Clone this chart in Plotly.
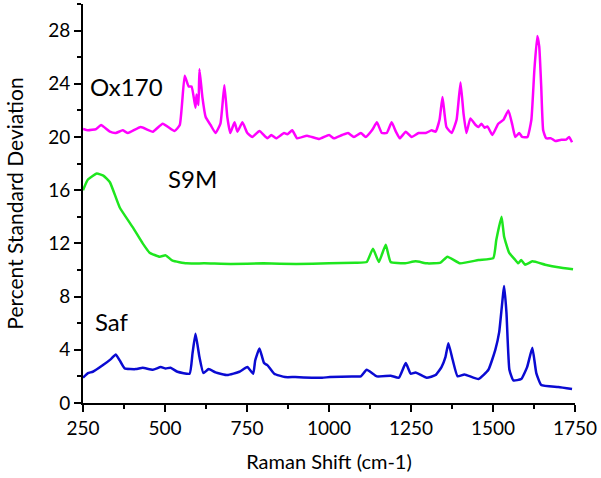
import plotly.graph_objects as go

# Ox170 (magenta)
ox_x = [250, 265, 290, 305, 332, 350, 371, 387, 426, 463, 493, 529, 545, 560, 572, 581, 593, 596, 602, 605, 614, 624, 639, 654, 669, 681, 690, 699, 712, 721, 736, 751, 766,
        788, 812, 824, 839, 863, 873, 888, 903, 933, 970, 1000, 1015, 1040, 1058, 1076, 1097, 1112, 1131, 1146, 1161, 1176, 1191, 1204, 1216, 1234, 1252, 1273,
        1295, 1313, 1325, 1337, 1346, 1358, 1374, 1389, 1401, 1410, 1419, 1431, 1447, 1456, 1465, 1474, 1483, 1498, 1516, 1532, 1547, 1559, 1568, 1580, 1589, 1605,
        1617, 1626, 1635, 1641, 1647, 1653, 1662, 1677, 1690, 1708, 1723, 1732, 1741]
ox_y = [20.6, 20.5, 20.6, 20.9, 20.4, 20.3, 20.5, 20.3, 20.75, 20.4, 21.0, 20.45, 20.9, 24.6, 23.8, 23.8, 22.2, 23.2, 22.4, 25.1, 23.0, 21.5, 20.9, 20.3, 21.0, 23.9, 21.5, 20.3, 21.1, 20.4, 21.1, 20.3, 20.0,
        20.45, 19.9, 20.15, 19.9, 20.3, 20.2, 20.5, 19.9, 20.1, 19.85, 20.15, 19.9, 20.15, 20.3, 20.0, 20.3, 20.0, 20.5, 21.1, 20.3, 20.3, 21.1, 20.4, 19.9, 20.4, 20.0, 20.3,
        20.3, 20.5, 20.4, 21.3, 23.0, 20.75, 20.3, 21.3, 24.1, 21.8, 20.3, 21.4, 20.9, 20.75, 21.0, 20.7, 20.8, 20.15, 21.0, 21.3, 22.0, 20.9, 20.0, 20.3, 20.0, 20.0,
        21.3, 25.0, 27.6, 26.8, 23.8, 20.5, 19.9, 19.9, 19.7, 19.8, 19.8, 20.0, 19.6]

# S9M (green)
s9_x = [250, 265, 292, 312, 332, 362, 402, 432, 453, 484, 502, 523, 566, 620, 700, 800, 900, 1000, 1080, 1115, 1134, 1152, 1173, 1188, 1230, 1264, 1300, 1340, 1361, 1400, 1456, 1501, 1510, 1526, 1534, 1549, 1568, 1577, 1586, 1598, 1620, 1659, 1699, 1744]
s9_y = [16.0, 16.8, 17.25, 17.1, 16.6, 14.7, 13.2, 12.0, 11.3, 11.0, 11.1, 10.7, 10.5, 10.5, 10.45, 10.5, 10.45, 10.5, 10.55, 10.6, 11.6, 10.6, 11.9, 10.6, 10.5, 10.65, 10.5, 10.55, 11.0, 10.5, 10.75, 10.9, 12.25, 14.0, 12.5, 11.3, 10.75, 10.5, 10.75, 10.4, 10.65, 10.4, 10.2, 10.05]

# Saf (blue)
saf_x = [250, 265, 280, 311, 335, 350, 362, 377, 411, 432, 463, 487, 502, 517, 538, 575, 584, 593, 605, 617, 633, 654, 690, 727, 751, 769, 775, 788, 802, 812, 833, 866, 897, 948, 979, 1003,
         1070, 1097, 1115, 1146, 1188, 1213, 1234, 1249, 1264, 1298, 1325, 1343, 1355, 1364, 1377, 1392, 1413, 1456, 1486, 1507, 1519, 1534, 1541, 1550, 1562, 1586, 1604, 1620, 1632, 1647, 1699, 1741]
saf_y = [1.9, 2.25, 2.35, 2.85, 3.3, 3.65, 3.2, 2.6, 2.55, 2.65, 2.5, 2.7, 2.6, 2.65, 2.35, 2.2, 3.75, 5.2, 3.45, 2.25, 2.55, 2.3, 2.1, 2.35, 2.7, 2.2, 3.2, 4.1, 3.0, 2.85, 2.2, 1.95, 1.95, 1.9, 1.9, 1.95,
         2.0, 2.0, 2.5, 2.0, 2.05, 1.9, 3.0, 2.2, 2.3, 1.9, 2.1, 2.7, 3.45, 4.5, 3.25, 2.0, 2.15, 1.8, 2.5, 4.0, 5.35, 8.8, 6.8, 2.5, 1.7, 1.8, 2.7, 4.15, 2.25, 1.35, 1.2, 1.05]

labels = ["Ox170", "S9M", "Saf"]
label_x = [384, 584, 338]
label_y = [23.8, 16.9, 6.1]

x_ticks = [250, 500, 750, 1000, 1250, 1500, 1750]
y_ticks = [0, 4, 8, 12, 16, 20, 24, 28]

font_family = "Lato, Open Sans, Liberation Sans, sans-serif"

fig = go.Figure()
for xs, ys, col, name in [(ox_x, ox_y, "#FF00FF", "Ox170"), (s9_x, s9_y, "#1EE61E", "S9M"), (saf_x, saf_y, "#0A0AD2", "Saf")]:
    fig.add_trace(go.Scatter(x=xs, y=ys, mode="lines", name=name,
                             line=dict(color=col, width=2.5, shape="spline", smoothing=0.4)))

for t, lx, ly in zip(labels, label_x, label_y):
    fig.add_annotation(x=lx, y=ly, text=t, showarrow=False, xref="x", yref="y",
                       font=dict(size=24, color="black", family=font_family))

axis_common = dict(showline=True, linecolor="black", linewidth=2, ticks="outside",
                   ticklen=7, tickwidth=2, tickcolor="black", showgrid=False, zeroline=False,
                   tickfont=dict(size=19, color="black", family=font_family))

fig.update_xaxes(range=[250, 1750], tickvals=x_ticks, ticktext=[str(v) for v in x_ticks],
                 minor=dict(tickvals=[375, 625, 875, 1125, 1375, 1625], ticklen=4, tickwidth=2, tickcolor="black", ticks="outside"),
                 title=dict(text="Raman Shift (cm-1)", font=dict(size=20, color="black", family=font_family), standoff=17),
                 **axis_common)
fig.update_yaxes(range=[0, 30], tickvals=y_ticks, ticktext=[str(v) for v in y_ticks],
                 minor=dict(tickvals=[2, 6, 10, 14, 18, 22, 26, 30], ticklen=4, tickwidth=2, tickcolor="black", ticks="outside"),
                 title=dict(text="Percent Standard Deviation", font=dict(size=21, color="black", family=font_family), standoff=19),
                 **axis_common)

fig.update_layout(width=601, height=478, margin=dict(l=83, r=24, t=4, b=75),
                  plot_bgcolor="white", paper_bgcolor="white", showlegend=False)

fig.write_html("out.html", config={"displayModeBar": False},
               post_script="document.body.style.margin='0';document.body.style.overflow='hidden';")
